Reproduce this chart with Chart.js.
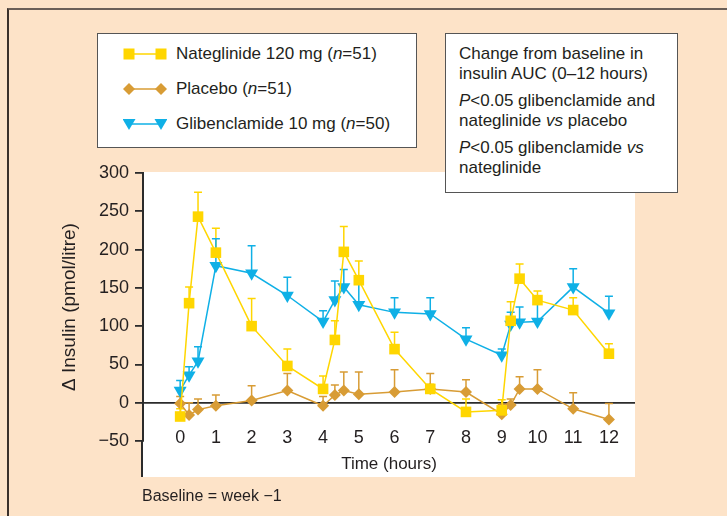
<!DOCTYPE html>
<html>
<head>
<meta charset="utf-8">
<script src="https://cdn.jsdelivr.net/npm/chart.js@4/dist/chart.umd.min.js"></script>
<style>
  body { margin: 0; background: #fde3c8; font-family: "Liberation Sans", Arial, sans-serif; color: #231f20; }
  #wrap { position: relative; width: 727px; height: 516px; overflow: hidden; }
  #frame { position: absolute; left: 7px; top: 8px; width: 740px; height: 540px; border-top: 2px solid #6b5f57; border-left: 2px solid #3a302a; }
  canvas { position: absolute; left: 0; top: 0; }
  .box { position: absolute; background: #fff; border: 1.5px solid #555; box-sizing: border-box; }
  #legend { left: 97px; top: 33px; width: 320px; height: 115px; }
  #legend .row { position: absolute; left: 25px; height: 20px; display: flex; align-items: center; font-size: 17px; white-space: nowrap; }
  #legend svg { margin-right: 9px; }
  #note { left: 445px; top: 33px; width: 233px; height: 160px; padding: 10px 0 0 13px; font-size: 17px; line-height: 20px; }
  #note p { margin: 0 0 7px 0; }
  #baseline { position: absolute; left: 142px; top: 487px; font-size: 16px; }
</style>
</head>
<body>
<div id="wrap">
  <div id="frame"></div>
  <canvas id="chart" width="727" height="516"></canvas>
  <div class="box" id="legend"></div>
  <div class="box" id="note">
    <p>Change from baseline in<br>insulin AUC (0–12 hours)</p>
    <p><i>P</i>&lt;0.05 glibenclamide and<br>nateglinide <i>vs</i> placebo</p>
    <p><i>P</i>&lt;0.05 glibenclamide <i>vs</i><br>nateglinide</p>
  </div>
  <div id="baseline">Baseline = week −1</div>
</div>
<script>
// sampling times (hours)
var times = [0, 0.25, 0.5, 1, 2, 3, 4, 4.33, 4.58, 5, 6, 7, 8, 9, 9.25, 9.5, 10, 11, 12];
var hourTicks = [0, 1, 2, 3, 4, 5, 6, 7, 8, 9, 10, 11, 12];
var insulinTicks = [-50, 0, 50, 100, 150, 200, 250, 300];

var seriesNames = ['Nateglinide 120 mg (n=51)', 'Placebo (n=51)', 'Glibenclamide 10 mg (n=50)'];

// mean change in insulin, and top of the error bar
var nateglinide      = [-18, 130, 243, 196, 100, 48, 18, 82, 197, 160, 70, 18, -12, -10, 107, 162, 134, 121, 64];
var nateglinideUpper = [-8, 151, 275, 228, 136, 70, 35, 107, 230, 185, 92, 24, 5, 4, 132, 181, 146, 137, 77];
var placebo          = [-1, -16, -9, -4, 3, 16, -4, 10, 16, 11, 14, 18, 14, -15, -3, 18, 18, -8, -22];
var placeboUpper     = [8, 0, 5, 10, 22, 38, 8, 23, 40, 40, 43, 38, 30, -2, 5, 34, 43, 13, -1];
var glibenclamide    = [16, 36, 54, 179, 169, 140, 106, 134, 151, 128, 118, 116, 83, 62, 102, 105, 106, 151, 117];
var glibenclamideUpper = [29, 47, 73, 214, 205, 164, 120, 159, 174, 158, 137, 137, 98, 70, 118, 125, 130, 175, 139];

var yellow = '#ffd600';
var tan = '#d89c35';
var blue = '#0fb0e6';
var ink = '#231f20';

function pts(vals) {
  return times.map(function (t, i) { return { x: t, y: vals[i] }; });
}

// vertical error bars (upper only) with a cap
var errorBars = {
  id: 'errorBars',
  beforeDatasetsDraw: function (chart) {
    var ctx = chart.ctx, ys = chart.scales.y;
    chart.data.datasets.forEach(function (ds, i) {
      var meta = chart.getDatasetMeta(i);
      ctx.save();
      ctx.strokeStyle = ds.borderColor;
      ctx.lineWidth = 1.5;
      meta.data.forEach(function (p, j) {
        var top = ys.getPixelForValue(ds.errorUpper[j]);
        ctx.beginPath();
        ctx.moveTo(p.x, p.y);
        ctx.lineTo(p.x, top);
        ctx.moveTo(p.x - 4, top);
        ctx.lineTo(p.x + 4, top);
        ctx.stroke();
      });
      ctx.restore();
    });
  }
};

// white plot panel, and the y axis line running down past the x labels
var panel = {
  id: 'panel',
  beforeDraw: function (chart) {
    var a = chart.chartArea, ctx = chart.ctx;
    ctx.save();
    ctx.fillStyle = '#fff';
    ctx.fillRect(a.left, a.top - 1, a.right - a.left, a.bottom - a.top + 37);
    ctx.restore();
  },
  afterDraw: function (chart) {
    var a = chart.chartArea, ctx = chart.ctx;
    ctx.save();
    ctx.strokeStyle = '#2b2b2b';
    ctx.lineWidth = 2;
    ctx.beginPath();
    ctx.moveTo(a.left - 1, a.bottom - 1);
    ctx.lineTo(a.left - 1, a.bottom + 36);
    ctx.stroke();
    ctx.restore();
  }
};

var chart = new Chart(document.getElementById('chart'), {
  type: 'line',
  data: {
    datasets: [
      {
        label: seriesNames[0], data: pts(nateglinide), errorUpper: nateglinideUpper,
        borderColor: yellow, backgroundColor: yellow, borderWidth: 1.5,
        pointStyle: 'rect', pointRadius: 7.5, pointBorderWidth: 0
      },
      {
        label: seriesNames[1], data: pts(placebo), errorUpper: placeboUpper,
        borderColor: tan, backgroundColor: tan, borderWidth: 1.5,
        pointStyle: 'rectRot', pointRadius: 6, pointBorderWidth: 0
      },
      {
        label: seriesNames[2], data: pts(glibenclamide), errorUpper: glibenclamideUpper,
        borderColor: blue, backgroundColor: blue, borderWidth: 1.5,
        pointStyle: 'triangle', pointRotation: 180, pointRadius: 7.5, pointBorderWidth: 0
      }
    ]
  },
  options: {
    responsive: false,
    animation: false,
    devicePixelRatio: 1,
    layout: { padding: { left: 58, top: 173, right: 92, bottom: 75 } },
    plugins: { legend: { display: false }, tooltip: { enabled: false } },
    scales: {
      x: {
        type: 'linear',
        position: { y: -50 },
        min: -1.04,
        max: 12.73,
        afterBuildTicks: function (s) { s.ticks = hourTicks.map(function (v) { return { value: v }; }); },
        grid: { display: false },
        border: { display: false },
        ticks: { padding: -22, color: ink, font: { size: 18, family: '"Liberation Sans", Arial' }, maxRotation: 0 },
        title: { display: true, text: 'Time (hours)', color: ink, padding: { top: 28, bottom: 0 }, font: { size: 17, family: '"Liberation Sans", Arial' } }
      },
      y: {
        min: -50,
        max: 300,
        afterBuildTicks: function (s) { s.ticks = insulinTicks.map(function (v) { return { value: v }; }); },
        afterFit: function (s) { s.width = 85; },
        grid: {
          drawOnChartArea: true,
          color: function (c) { return c.tick && c.tick.value === 0 ? '#2b2b2b' : 'rgba(0,0,0,0)'; },
          tickColor: '#2b2b2b',
          tickLength: 8,
          lineWidth: 1.8
        },
        border: { display: true, color: '#2b2b2b', width: 2 },
        ticks: {
          padding: 6, color: ink, font: { size: 18, family: '"Liberation Sans", Arial' },
          callback: function (v) { return String(v).replace('-', '\u2212'); }
        },
        title: { display: true, text: 'Δ Insulin (pmol/litre)', color: ink, padding: 0, font: { size: 19, family: '"Liberation Sans", Arial' } }
      }
    }
  },
  plugins: [panel, errorBars]
});

// legend box built from the datasets
var legend = document.getElementById('legend');
chart.data.datasets.forEach(function (ds, i) {
  var c = ds.borderColor, m;
  if (ds.pointStyle === 'rect') {
    m = function (x) { return '<rect x="' + (x - 5.5) + '" y="1.5" width="11" height="11" fill="' + c + '"/>'; };
  } else if (ds.pointStyle === 'rectRot') {
    m = function (x) { return '<polygon points="' + (x - 6) + ',7 ' + x + ',1 ' + (x + 6) + ',7 ' + x + ',13" fill="' + c + '"/>'; };
  } else {
    m = function (x) { return '<polygon points="' + (x - 6.5) + ',2 ' + (x + 6.5) + ',2 ' + x + ',13" fill="' + c + '"/>'; };
  }
  var svg = '<svg width="44" height="14"><line x1="6" y1="7" x2="38" y2="7" stroke="' + c + '" stroke-width="1.5"/>' + m(6) + m(38) + '</svg>';
  var row = document.createElement('div');
  row.className = 'row';
  row.style.top = (10 + i * 35) + 'px';
  row.innerHTML = svg + '<span>' + ds.label.replace('(n=', '(<i>n</i>=') + '</span>';
  legend.appendChild(row);
});
</script>
</body>
</html>
